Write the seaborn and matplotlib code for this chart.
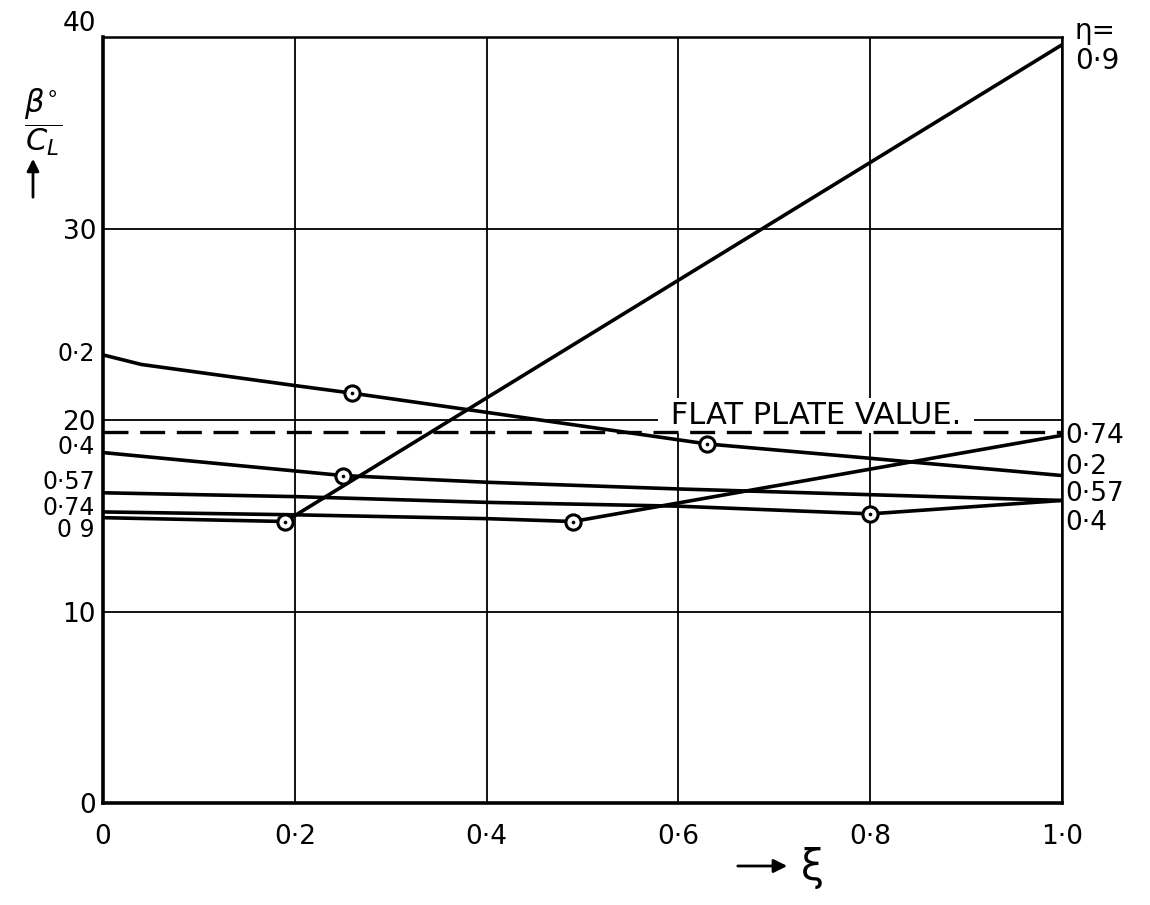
import numpy as np
import pandas as pd
import matplotlib
matplotlib.use("Agg")
import matplotlib.pyplot as plt
import seaborn as sns

sns.set_theme(style="white")
plt.rcParams['font.family'] = ['DejaVu Sans']
plt.rcParams['text.color'] = 'black'

# --- data (xi, beta/C_L) ---
eta_names = ["0·2", "0·4", "0·57", "0·74", "0·9"]

xi_02 = [0.0, 0.04, 0.2, 0.26, 0.4, 0.63, 0.8, 1.0]
beta_02 = [23.4, 22.9, 21.8, 21.4, 20.4, 18.75, 18.0, 17.1]

xi_04 = [0.0, 0.25, 0.4, 0.6, 1.0]
beta_04 = [18.3, 17.1, 16.75, 16.4, 15.8]

xi_057 = [0.0, 0.2, 0.4, 0.6, 0.8, 1.0]
beta_057 = [16.2, 16.0, 15.7, 15.5, 15.1, 15.8]

xi_074 = [0.0, 0.2, 0.4, 0.49, 1.0]
beta_074 = [15.2, 15.05, 14.85, 14.7, 19.2]

xi_09 = [0.0, 0.19, 1.0]
beta_09 = [14.9, 14.7, 39.6]

# ringed (calculated) points
circle_xi = [0.19, 0.26, 0.25, 0.49, 0.63, 0.8]
circle_beta = [14.7, 21.4, 17.1, 14.7, 18.75, 15.1]

flat_plate_xi = [0.0, 1.0]
flat_plate_beta = [19.4, 19.4]

x_ticks = [0, 0.2, 0.4, 0.6, 0.8, 1.0]
x_ticklabels = ["0", "0·2", "0·4", "0·6", "0·8", "1·0"]
y_ticks = [0, 10, 20, 30, 40]
y_ticklabels = ["0", "10", "20", "30", "40"]

curves = [(eta_names[0], xi_02, beta_02), (eta_names[1], xi_04, beta_04),
          (eta_names[2], xi_057, beta_057), (eta_names[3], xi_074, beta_074),
          (eta_names[4], xi_09, beta_09)]
df = pd.concat([pd.DataFrame({"xi": x, "beta": b, "eta": e}) for e, x, b in curves],
               ignore_index=True)

# label nudges in points (vertical), left side and right side
left_dy = {"0·2": 1, "0·4": 4, "0·57": 7.5, "0·74": 3, "0·9": -9}
left_text = {"0·2": "0·2", "0·4": "0·4", "0·57": "0·57", "0·74": "0·74", "0·9": "0 9"}
right_dy = {"0·74": -0.5, "0·2": 6, "0·57": 4.5, "0·4": -16}

fig = plt.figure(figsize=(11.5, 9.05), dpi=100)
ax = fig.add_axes([0.0896, 0.1127, 0.834, 0.8464])

sns.lineplot(data=df, x="xi", y="beta", units="eta", estimator=None, sort=False,
             color="black", linewidth=2.6, ax=ax, zorder=5, legend=False)
sns.lineplot(x=flat_plate_xi, y=flat_plate_beta, color="black", linewidth=2.4,
             linestyle=(0, (7.5, 3.5)), ax=ax, zorder=5)
sns.scatterplot(x=circle_xi, y=circle_beta, s=120, facecolor="white",
                edgecolor="black", linewidth=2.2, ax=ax, zorder=6)
sns.scatterplot(x=circle_xi, y=circle_beta, s=7, color="black", linewidth=0,
                ax=ax, zorder=7)

ax.set_xlim(0, 1)
ax.set_ylim(0, 40)
ax.set_xticks(x_ticks, x_ticklabels)
ax.set_yticks(y_ticks, y_ticklabels)
ax.set_xlabel("")
ax.set_ylabel("")
ax.tick_params(length=0, labelsize=19, colors="black")
ax.tick_params(axis="x", pad=15)
ax.tick_params(axis="y", pad=5)
for lab in ax.get_yticklabels():
    if lab.get_text() == "40":
        lab.set_va("bottom")
ax.grid(True, color="black", linewidth=1.3)
ax.set_axisbelow(True)
for side, sp in ax.spines.items():
    sp.set_visible(True)
    sp.set_color("black")
    sp.set_linewidth(2.6 if side in ("left", "bottom") else 1.8)

# curve labels at both ends
for e, x, b in curves:
    ax.annotate(left_text[e], xy=(0, b[0]), xytext=(-6, left_dy[e]),
                textcoords="offset points", ha="right", va="center", fontsize=17)
    if e in right_dy:
        ax.annotate(e, xy=(1, b[-1]), xytext=(2, right_dy[e]),
                    textcoords="offset points", ha="left", va="center", fontsize=19)
ax.annotate("0·9", xy=(1, beta_09[-1]), xytext=(9, -12), textcoords="offset points",
            ha="left", va="center", fontsize=20, annotation_clip=False)
ax.annotate("η=", xy=(1, beta_09[-1]), xytext=(9, 10), textcoords="offset points",
            ha="left", va="center", fontsize=20, annotation_clip=False)

ax.text(0.743, 20.25, " FLAT PLATE VALUE. ", ha="center", va="center", fontsize=22,
        zorder=4, bbox=dict(boxstyle="square,pad=0.1", facecolor="white", edgecolor="none"))

# axis titles
fig.text(43 / 1150, 1 - 122 / 905, r"$\dfrac{\beta^{\circ}}{C_L}$", ha="center",
         va="center", fontsize=22)
fig.add_artist(matplotlib.patches.FancyArrowPatch(
    (33 / 1150, 1 - 200 / 905), (33 / 1150, 1 - 156 / 905), transform=fig.transFigure,
    arrowstyle="-|>", mutation_scale=18, color="black", linewidth=2))
fig.add_artist(matplotlib.patches.FancyArrowPatch(
    (735 / 1150, 1 - 866 / 905), (790 / 1150, 1 - 866 / 905), transform=fig.transFigure,
    arrowstyle="-|>", mutation_scale=20, color="black", linewidth=2))
fig.text(812 / 1150, 1 - 868 / 905, "ξ", ha="center", va="center", fontsize=30)

fig.savefig("out.png", dpi=100)
plt.close(fig)
